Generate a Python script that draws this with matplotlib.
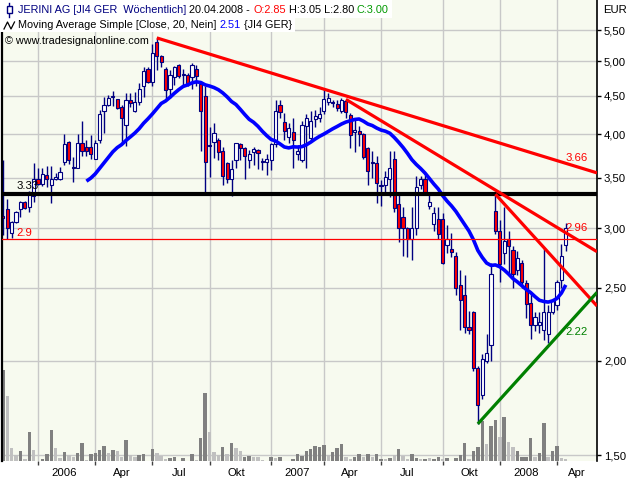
import numpy as np
import pandas as pd
import matplotlib
matplotlib.use("Agg")
import matplotlib.pyplot as plt
import matplotlib.transforms as mtrans
import matplotlib.text as mtext
from matplotlib.patches import Rectangle
from matplotlib.lines import Line2D
from matplotlib.ticker import FixedLocator, NullLocator, FuncFormatter, NullFormatter, FixedFormatter

# ---------------- data (weekly bars, JERINI AG) ----------------
last_bar_date = "2008-04-20"

opens = [3.12, 3.18, 2.96, 3.06, 3.18, 3.25, 3.20, 3.31, 3.49, 3.44,
         3.53, 3.42, 3.49, 3.49, 3.68, 3.91, 3.62, 3.61, 3.90, 3.85,
         3.85, 3.71, 3.93, 4.30, 4.37, 4.48, 4.45, 4.35, 4.11, 4.44,
         4.29, 4.41, 4.64, 4.89, 4.69, 5.30, 5.08, 4.89, 4.59, 4.76,
         4.94, 4.79, 4.79, 4.77, 4.89, 4.67, 4.49, 3.87, 3.91, 3.93,
         3.80, 3.66, 3.49, 3.70, 3.88, 3.84, 3.70, 3.79, 3.81, 3.69,
         3.67, 3.70, 3.88, 4.37, 4.15, 3.97, 4.03, 3.76, 3.70, 4.10,
         3.96, 4.19, 4.20, 4.30, 4.41, 4.41, 4.39, 4.29, 4.43, 4.24,
         4.03, 4.04, 4.00, 3.84, 3.68, 3.66, 3.41, 3.43, 3.49, 3.71,
         3.23, 3.11, 3.00, 2.90, 3.00, 3.43, 3.49, 3.21, 3.04, 3.09,
         3.09, 2.85, 2.82, 2.76, 2.52, 2.45, 2.22, 2.32, 1.96, 1.80,
         2.00, 2.10, 3.16, 2.98, 2.78, 2.90, 2.81, 2.64, 2.70, 2.54,
         2.39, 2.23, 2.23, 2.20, 2.17, 2.32, 2.37, 2.56, 2.85]

highs = [3.70, 3.28, 3.07, 3.16, 3.26, 3.26, 3.36, 3.66, 3.61, 3.61,
         3.63, 3.63, 3.55, 3.62, 4.00, 3.92, 3.73, 4.00, 4.16, 3.93,
         3.99, 3.93, 4.31, 4.48, 4.51, 4.56, 4.46, 4.38, 4.54, 4.54,
         4.55, 4.68, 4.91, 4.92, 5.27, 5.37, 5.10, 4.91, 4.87, 4.93,
         4.96, 4.89, 4.83, 4.97, 4.95, 4.71, 4.63, 4.09, 4.14, 3.96,
         3.85, 3.68, 3.70, 3.90, 3.90, 3.85, 3.81, 3.85, 3.82, 3.72,
         3.76, 3.90, 4.44, 4.44, 4.27, 4.14, 4.20, 3.87, 4.16, 4.25,
         4.30, 4.31, 4.35, 4.59, 4.54, 4.44, 4.44, 4.47, 4.44, 4.27,
         4.18, 4.10, 4.01, 3.85, 3.80, 3.74, 3.48, 3.57, 3.80, 3.80,
         3.33, 3.20, 3.01, 3.20, 3.52, 3.52, 3.53, 3.35, 3.20, 3.20,
         3.14, 3.03, 2.96, 2.79, 2.64, 2.60, 2.33, 2.33, 1.97, 2.04,
         2.17, 2.70, 3.33, 3.08, 3.20, 2.98, 2.84, 2.80, 2.72, 2.56,
         2.46, 2.32, 2.32, 2.83, 2.37, 2.42, 2.56, 2.86, 3.05]

lows = [2.94, 2.90, 2.91, 3.05, 3.11, 3.18, 3.15, 3.25, 3.42, 3.41,
        3.40, 3.24, 3.48, 3.48, 3.64, 3.65, 3.46, 3.61, 3.74, 3.74,
        3.71, 3.71, 3.89, 4.02, 4.36, 4.36, 4.32, 3.90, 3.86, 4.35,
        4.28, 4.38, 4.48, 4.68, 4.64, 4.87, 4.91, 4.44, 4.47, 4.65,
        4.75, 4.62, 4.64, 4.60, 4.64, 3.80, 3.33, 3.51, 3.72, 3.70,
        3.43, 3.45, 3.31, 3.61, 3.70, 3.49, 3.61, 3.64, 3.60, 3.59,
        3.53, 3.59, 3.85, 4.20, 3.93, 3.90, 3.61, 3.70, 3.68, 3.61,
        3.92, 4.09, 4.15, 4.25, 4.37, 4.35, 4.29, 4.27, 4.20, 3.83,
        3.79, 3.86, 3.71, 3.43, 3.50, 3.24, 3.21, 3.32, 3.30, 3.15,
        2.88, 2.76, 2.75, 2.72, 2.94, 3.38, 3.33, 3.18, 2.98, 2.90,
        2.69, 2.78, 2.75, 2.45, 2.20, 2.18, 2.17, 1.94, 1.65, 1.78,
        1.99, 2.00, 2.95, 2.55, 2.69, 2.62, 2.50, 2.60, 2.50, 2.28,
        2.14, 2.19, 2.18, 2.13, 2.11, 2.31, 2.34, 2.50, 2.80]

closes = [3.10, 3.00, 3.06, 3.15, 3.25, 3.19, 3.35, 3.49, 3.44, 3.54,
          3.49, 3.49, 3.51, 3.56, 3.88, 3.70, 3.61, 3.90, 3.80, 3.80,
          3.76, 3.90, 4.26, 4.37, 4.47, 4.50, 4.33, 4.20, 4.44, 4.40,
          4.41, 4.59, 4.86, 4.70, 5.13, 5.08, 4.99, 4.58, 4.80, 4.91,
          4.78, 4.80, 4.68, 4.95, 4.78, 4.30, 3.67, 3.86, 4.01, 3.79,
          3.52, 3.49, 3.60, 3.89, 3.84, 3.74, 3.76, 3.82, 3.78, 3.67,
          3.71, 3.88, 4.30, 4.28, 4.04, 4.08, 3.93, 3.80, 4.11, 4.21,
          4.16, 4.23, 4.26, 4.45, 4.47, 4.40, 4.34, 4.44, 4.28, 3.99,
          4.05, 4.00, 3.73, 3.57, 3.66, 3.45, 3.43, 3.51, 3.61, 3.19,
          3.00, 3.00, 2.90, 3.00, 3.40, 3.49, 3.34, 3.25, 3.14, 2.95,
          2.70, 2.90, 2.79, 2.50, 2.41, 2.22, 2.20, 1.96, 1.75, 2.01,
          2.05, 2.61, 2.98, 2.69, 2.89, 2.84, 2.61, 2.74, 2.55, 2.38,
          2.23, 2.29, 2.25, 2.32, 2.32, 2.40, 2.55, 2.76, 3.00]

# weekly volume (relative units)
volumes = [91, 65, 13, 6, 10, 2, 29, 11, 0, 2,
           7, 31, 13, 3, 9, 6, 4, 8, 18, 1,
           7, 8, 11, 15, 8, 11, 10, 4, 21, 6,
           4, 6, 7, 0, 12, 8, 5, 2, 3, 4,
           0, 3, 0, 7, 1, 23, 68, 29, 9, 6,
           14, 7, 18, 13, 10, 4, 5, 4, 4, 1,
           0, 4, 3, 4, 0, 0, 2, 7, 5, 10,
           12, 15, 14, 16, 6, 9, 13, 17, 4, 2,
           4, 7, 4, 7, 4, 7, 2, 2, 3, 6,
           12, 5, 2, 7, 3, 2, 2, 3, 2, 4,
           2, 3, 0, 3, 6, 18, 2, 10, 14, 40,
           17, 35, 41, 24, 44, 19, 14, 10, 4, 4,
           23, 4, 8, 38, 4, 10, 15, 3, 2]
volume_dark = [1, 0, 0, 0, 1, 0, 1, 0, 0, 1,
               1, 1, 0, 0, 1, 0, 0, 1, 1, 0,
               1, 1, 1, 1, 0, 1, 0, 0, 1, 0,
               0, 1, 1, 0, 1, 0, 0, 0, 1, 1,
               1, 1, 1, 1, 0, 1, 1, 0, 0, 0,
               1, 0, 1, 0, 0, 1, 1, 0, 0, 0,
               1, 1, 0, 1, 1, 1, 1, 1, 1, 1,
               1, 1, 1, 1, 0, 1, 1, 1, 0, 0,
               1, 1, 0, 1, 0, 1, 1, 0, 1, 0,
               1, 0, 0, 1, 1, 0, 1, 0, 1, 1,
               0, 1, 1, 1, 1, 1, 0, 1, 1, 1,
               0, 1, 1, 0, 1, 0, 0, 1, 1, 1,
               1, 0, 1, 1, 0, 1, 1, 0, 0]

ma_period = 20
price_ticks = [1.5, 2.0, 2.5, 3.0, 3.5, 4.0, 4.5, 5.0, 5.5]
month_names = {1: None, 4: "Apr", 7: "Jul", 10: "Okt"}

hline_black = 3.33
hline_red = 2.9

# trend lines: start bar/price and a second reference bar/price, extended to the right
trend_start_idx = [35, 78, 112, 108]
trend_start_val = [5.37, 4.45, 3.33, 1.65]
trend_ref_idx = [128, 128, 123, 128]
trend_ref_val = [3.66, 2.96, 2.83, 2.22]
trend_colors = ["#FF0000", "#FF0000", "#FF0000", "#008000"]
trend_labels = ["3.66", "2.96", None, "2.22"]
trend_label_va = ["bottom", "bottom", None, "top"]

header1 = [("JERINI AG [JI4 GER  Wöchentlich] ", "#000080"),
           ("20.04.2008 - ", "#000000"),
           ("O:2.85", "#FF0000"),
           (" H:3.05 L:2.80 ", "#000000"),
           ("C:3.00", "#009900")]
header2 = [("Moving Average Simple [Close, 20, Nein] ", "#000000"),
           ("2.51", "#0000FF"),
           (" {JI4 GER}", "#000000")]
header3 = "© www.tradesignalonline.com"

# ---------------- figure ----------------
plt.rcParams["font.family"] = ["Liberation Sans", "DejaVu Sans"]
FS = 8.2
FSH = 7.85
W, H = 640, 480
NAVY = "#000080"
BG = "#F7FAEF"

fig = plt.figure(figsize=(W / 100, H / 100), dpi=100)
fig.patch.set_facecolor("white")
ax = fig.add_axes([2 / W, 1 - 461 / H, 595 / W, 461 / H])
ax.set_facecolor(BG)
ax.set_yscale("log")

N = len(closes)
idx = np.arange(N)
o = np.array(opens)
h = np.array(highs)
l = np.array(lows)
c = np.array(closes)

xmin, xmax = -0.2, 135.1
ymin, ymax = 1.473, 6.03

# volume bars (bottom of the price pane)
vtrans = mtrans.blended_transform_factory(ax.transData, ax.transAxes)
vol = np.array(volumes, dtype=float)
vol_frac = 0.197
vcolors = ["#808080" if d else "#C0C0C0" for d in volume_dark]
ax.bar(idx, vol / vol.max() * vol_frac, bottom=0, width=0.78, color=vcolors,
       linewidth=0, transform=vtrans, zorder=1)

# candles
up = c >= o
ax.vlines(idx, l, h, color=NAVY, lw=1.0, zorder=2)
body_bottom = np.minimum(o, c)
body_h = np.maximum(np.abs(c - o), 0.012)
ax.bar(idx, body_h, bottom=body_bottom, width=0.72,
       color=np.where(up, "white", "#FF0000"), edgecolor=NAVY, linewidth=0.8, zorder=2.2)

# moving average
ma = pd.Series(closes).rolling(ma_period).mean()
ax.plot(idx, ma, color="#0000FF", lw=2.6, zorder=3, solid_capstyle="butt")

# horizontal lines
ax.axhline(hline_black, color="black", lw=3.0, zorder=3.5)
ax.axhline(hline_red, color="#FF0000", lw=0.9, zorder=3.5)
ax.annotate(f"{hline_black:.2f}", xy=(3.0, hline_black), xytext=(0, 2), textcoords="offset points",
            ha="left", va="bottom", fontsize=FS, color="black", zorder=6)
ax.annotate(f"{hline_red:g}", xy=(3.0, hline_red), xytext=(0, 1), textcoords="offset points",
            ha="left", va="bottom", fontsize=FS, color="#FF0000", zorder=6)

# trend lines
for i0, p0, i1, p1, col, lab, va in zip(trend_start_idx, trend_start_val, trend_ref_idx,
                                          trend_ref_val, trend_colors, trend_labels, trend_label_va):
    xs = np.array([i0, xmax])
    ys = p0 * (p1 / p0) ** ((xs - i0) / (i1 - i0))
    ax.plot(xs, ys, color=col, lw=2.3, zorder=4, solid_capstyle="butt")
    if lab:
        ax.annotate(lab, xy=(i1 - 0.1, p1), ha="left", va=va, fontsize=FS, color=col, zorder=6)

ax.set_xlim(xmin, xmax)
ax.set_ylim(ymin, ymax)

# y axis (right)
ax.yaxis.set_major_locator(FixedLocator(price_ticks))
ax.yaxis.set_minor_locator(NullLocator())
ax.yaxis.set_major_formatter(FuncFormatter(lambda v, p: f"{v:.2f}".replace(".", ",")))
ax.yaxis.set_minor_formatter(NullFormatter())
ax.yaxis.tick_right()
ax.tick_params(axis="y", which="major", length=3, width=1, pad=2, labelsize=FS, colors="black")

# x axis (quarters)
weeks = pd.date_range(end=last_bar_date, periods=N, freq="W-SUN")
qs = weeks.to_period("Q")
tick_idx = [i for i in range(1, N) if qs[i] != qs[i - 1]]
labels = []
label_pos = []
for t in tick_idx:
    m = weeks[t].month
    labels.append(str(weeks[t].year) if m == 1 else month_names[m])
    label_pos.append(min(t + 6, xmax - 4.5))
ax.xaxis.set_major_locator(FixedLocator(tick_idx))
ax.xaxis.set_major_formatter(NullFormatter())
ax.xaxis.set_minor_locator(FixedLocator(label_pos))
ax.xaxis.set_minor_formatter(FixedFormatter(labels))
ax.tick_params(axis="x", which="major", length=3, width=1, color="#404040", direction="out")
ax.tick_params(axis="x", which="minor", length=0, pad=5, labelsize=FS, colors="black")

ax.grid(True, which="major", color="#C8C8C8", lw=1.0)
ax.set_axisbelow(True)

for s in ["top", "bottom"]:
    ax.spines[s].set_visible(False)
ax.spines["left"].set_color("black")
ax.spines["left"].set_linewidth(1.6)
ax.spines["right"].set_color("black")
ax.spines["right"].set_linewidth(1.2)

fig.text(603 / W, 1 - 10 / H, "EUR", fontsize=FS, ha="left", va="center", color="black")

# ---------------- header ----------------
ident = mtrans.IdentityTransform()


def chain(pieces, x_px, y_px):
    arts = []
    prev = None
    for txt, col in pieces:
        if prev is None:
            t = fig.text(x_px / W, 1 - y_px / H, txt, color=col, fontsize=FSH,
                         ha="left", va="center", zorder=10)
        else:
            t = mtext.Annotation(txt, xy=(1, 0), xycoords=prev, ha="left", va="bottom",
                                 color=col, fontsize=FSH, zorder=10)
            fig.add_artist(t)
        arts.append(t)
        prev = t
    return arts


line1 = chain(header1, 18, 10)
line2 = chain(header2, 18, 25)
fig.text(5 / W, 1 - 41 / H, header3, fontsize=FSH, ha="left", va="center", color="black", zorder=10)

fig.canvas.draw()
r = fig.canvas.get_renderer()
x1_end = line1[-1].get_window_extent(r).x1
x2_end = line2[-1].get_window_extent(r).x1
fig.add_artist(Rectangle((0, H - 18), x1_end + 3, 18, transform=ident, facecolor="white",
                         edgecolor="none", zorder=5))
fig.add_artist(Rectangle((0, H - 32), x2_end + 3, 14, transform=ident, facecolor="white",
                         edgecolor="none", zorder=5))

# icons
fig.add_artist(Line2D([9, 9], [H - 3, H - 17], transform=ident, color=NAVY, lw=1.0, zorder=11))
fig.add_artist(Rectangle((6.5, H - 13), 5, 7, transform=ident, facecolor="white",
                         edgecolor=NAVY, lw=1.0, zorder=12))
fig.add_artist(Line2D([4, 7.5, 11, 14.5], [H - 29, H - 22, H - 29, H - 22], transform=ident,
                      color="black", lw=0.9, zorder=11))

fig.savefig("out.png", dpi=100)
